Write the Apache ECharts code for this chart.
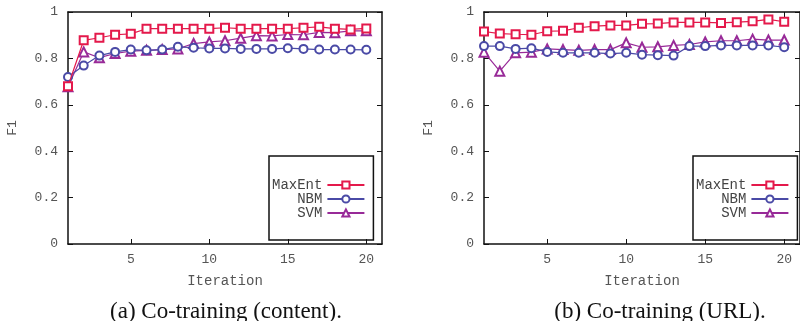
<!DOCTYPE html>
<html>
<head>
<meta charset="utf-8">
<script src="https://cdn.jsdelivr.net/npm/echarts@6/dist/echarts.min.js"></script>
<style>
  html, body { margin: 0; padding: 0; background: #fff; }
  #chart { width: 800px; height: 321px; }
</style>
</head>
<body>
<div id="chart"></div>
<script>
// iterations 1..20
const iterations = [1, 2, 3, 4, 5, 6, 7, 8, 9, 10, 11, 12, 13, 14, 15, 16, 17, 18, 19, 20];
const xTicks = [5, 10, 15, 20];
const names = ['MaxEnt', 'NBM', 'SVM'];
const captions = ['(a) Co-training (content).', '(b) Co-training (URL).'];

// (a) content
const contentMaxEnt = [0.68, 0.878, 0.889, 0.902, 0.906, 0.928, 0.928, 0.928, 0.928, 0.928, 0.932, 0.928, 0.928, 0.928, 0.928, 0.932, 0.936, 0.928, 0.925, 0.929];
const contentNBM = [0.72, 0.769, 0.812, 0.828, 0.838, 0.835, 0.838, 0.85, 0.846, 0.843, 0.843, 0.841, 0.841, 0.841, 0.844, 0.841, 0.838, 0.838, 0.838, 0.837];
const contentSVM = [0.678, 0.828, 0.803, 0.821, 0.831, 0.835, 0.838, 0.841, 0.864, 0.871, 0.876, 0.887, 0.898, 0.897, 0.903, 0.902, 0.912, 0.911, 0.919, 0.919];

// (b) URL
const urlMaxEnt = [0.916, 0.907, 0.904, 0.902, 0.917, 0.919, 0.932, 0.939, 0.942, 0.942, 0.949, 0.95, 0.955, 0.955, 0.955, 0.953, 0.956, 0.96, 0.968, 0.958];
const urlNBM = [0.853, 0.853, 0.841, 0.844, 0.828, 0.824, 0.824, 0.824, 0.821, 0.824, 0.816, 0.814, 0.812, 0.853, 0.853, 0.856, 0.856, 0.856, 0.856, 0.848];
const urlSVM = [0.827, 0.745, 0.824, 0.827, 0.841, 0.838, 0.835, 0.838, 0.838, 0.867, 0.848, 0.85, 0.856, 0.86, 0.871, 0.876, 0.876, 0.883, 0.879, 0.879];

const colors = ['#e4194b', '#4a4aa6', '#982a98'];
const symbols = ['emptyRect', 'emptyCircle', 'emptyTriangle'];
const mono = 'Liberation Mono';

const pairs = (vals) => vals.map((v, i) => [iterations[i], v]);

const chart = echarts.init(document.getElementById('chart'));

const grids = [
  { left: 68, top: 12, width: 314, height: 232 },
  { left: 484, top: 12, width: 321, height: 232 },
];

const xAxes = [];
const yAxes = [];
[0, 1].forEach((g) => {
  // bottom axis with labels
  xAxes.push({
    type: 'value', gridIndex: g, min: 1, max: 21, position: 'bottom',
    name: 'Iteration', nameLocation: 'middle', nameGap: 30,
    nameTextStyle: { fontFamily: mono, fontSize: 14, color: '#555' },
    axisLine: { onZero: false, lineStyle: { color: '#111', width: 1.5 } },
    axisTick: { inside: true, length: 5, customValues: xTicks, lineStyle: { color: '#111' } },
    axisLabel: { customValues: xTicks, fontFamily: mono, fontSize: 13, color: '#555', margin: 9 },
    splitLine: { show: false },
  });
  // top mirror
  xAxes.push({
    type: 'value', gridIndex: g, min: 1, max: 21, position: 'top',
    axisLine: { onZero: false, lineStyle: { color: '#111', width: 1.5 } },
    axisTick: { inside: true, length: 5, customValues: xTicks, lineStyle: { color: '#111' } },
    axisLabel: { show: false },
    splitLine: { show: false },
  });
  yAxes.push({
    type: 'value', gridIndex: g, min: 0, max: 1, interval: 0.2, position: 'left',
    name: 'F1', nameLocation: 'middle', nameGap: 49,
    nameTextStyle: { fontFamily: mono, fontSize: 13, color: '#555' },
    axisLine: { show: true, onZero: false, lineStyle: { color: '#111', width: 1.5 } },
    axisTick: { show: true, inside: true, length: 5, lineStyle: { color: '#111' } },
    axisLabel: {
      fontFamily: mono, fontSize: 13, color: '#555', margin: 10,
      formatter: (v) => (v === 0 || v === 1 ? String(v) : v.toFixed(1)),
    },
    splitLine: { show: false },
  });
  yAxes.push({
    type: 'value', gridIndex: g, min: 0, max: 1, interval: 0.2, position: 'right',
    axisLine: { show: true, onZero: false, lineStyle: { color: '#111', width: 1.5 } },
    axisTick: { show: true, inside: true, length: 5, lineStyle: { color: '#111' } },
    axisLabel: { show: false },
    splitLine: { show: false },
  });
});

const seriesData = [
  [contentMaxEnt, contentNBM, contentSVM],
  [urlMaxEnt, urlNBM, urlSVM],
];

const series = [];
seriesData.forEach((set, g) => {
  set.forEach((vals, k) => {
    series.push({
      name: names[k],
      type: 'line',
      xAxisIndex: g * 2,
      yAxisIndex: g * 2,
      data: pairs(vals),
      symbol: symbols[k],
      symbolSize: k === 2 ? 9 : 8,
      showAllSymbol: true,
      color: colors[k],
      lineStyle: { width: 1.2, color: colors[k] },
      itemStyle: { color: colors[k], borderWidth: 1.2 },
      emphasis: { disabled: true },
      animation: false,
      z: 3 - k,
    });
  });
});

const legendBase = {
  orient: 'vertical',
  align: 'right',
  data: names,
  top: 156,
  itemWidth: 37,
  itemHeight: 9,
  itemGap: 0,
  padding: [22, 8, 20, 3],
  borderColor: '#111',
  borderWidth: 1.5,
  textStyle: { fontFamily: mono, fontSize: 14, color: '#444', lineHeight: 14 },
};

chart.setOption({
  backgroundColor: '#fff',
  animation: false,
  title: [
    { text: captions[0], left: 221, top: 295, textAlign: 'center',
      textStyle: { fontFamily: 'Liberation Serif', fontSize: 23, fontWeight: 'normal', color: '#111' } },
    { text: captions[1], left: 655, top: 295, textAlign: 'center',
      textStyle: { fontFamily: 'Liberation Serif', fontSize: 23, fontWeight: 'normal', color: '#111' } },
  ],
  legend: [
    Object.assign({}, legendBase, { left: 269 }),
    Object.assign({}, legendBase, { left: 693 }),
  ],
  grid: grids,
  xAxis: xAxes,
  yAxis: yAxes,
  series: series,
});
</script>
</body>
</html>
